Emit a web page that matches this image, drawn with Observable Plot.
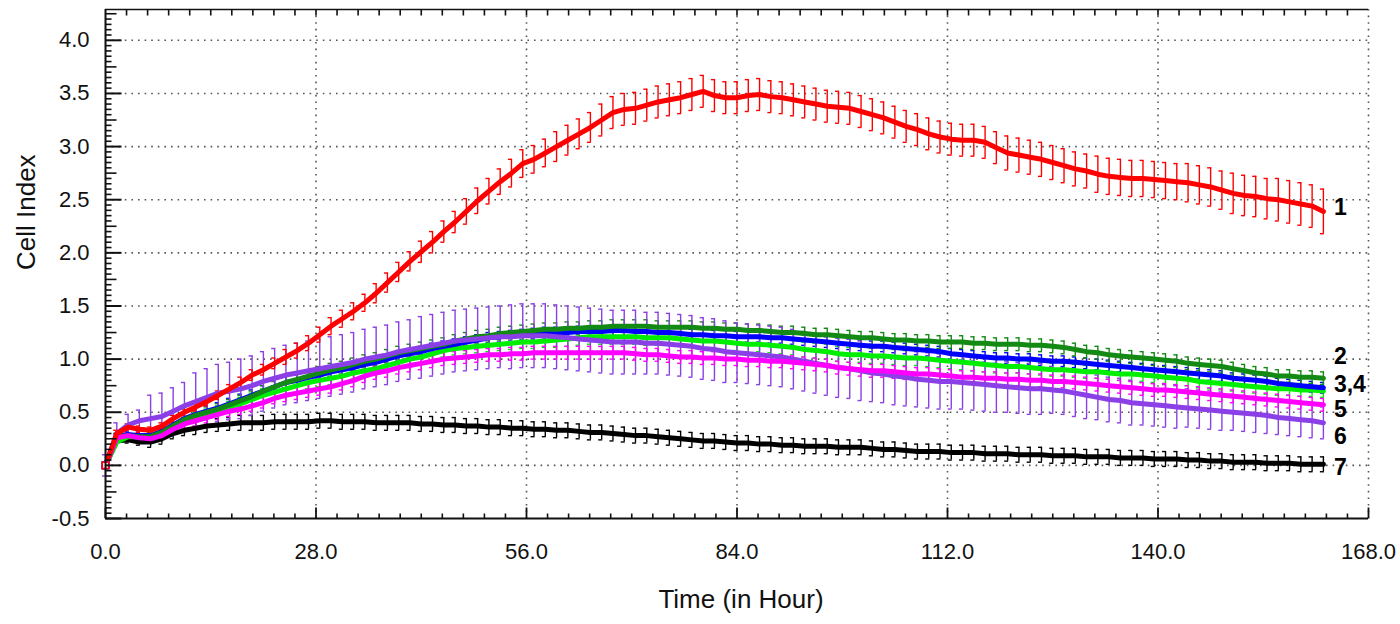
<!DOCTYPE html>
<html><head><meta charset="utf-8">
<script src="https://cdn.jsdelivr.net/npm/d3@7"></script>
<script src="https://cdn.jsdelivr.net/npm/@observablehq/plot@0.6"></script>
<style>html,body{margin:0;padding:0;background:#fff;}</style>
</head><body><div id="chart"></div>
<script>
// Time grid (hours)
const hours = [0,1.5,3,4.5,6,7.5,9,10.5,12,13.5,15,16.5,18,19.5,21,22.5,24,25.5,27,28.5,30,31.5,33,34.5,36,37.5,39,40.5,42,43.5,45,46.5,48,49.5,51,52.5,54,55.5,57,58.5,60,61.5,63,64.5,66,67.5,69,70.5,72,73.5,75,76.5,78,79.5,81,82.5,84,85.5,87,88.5,90,91.5,93,94.5,96,97.5,99,100.5,102,103.5,105,106.5,108,109.5,111,112.5,114,115.5,117,118.5,120,121.5,123,124.5,126,127.5,129,130.5,132,133.5,135,136.5,138,139.5,141,142.5,144,145.5,147,148.5,150,151.5,153,154.5,156,157.5,159,160.5,162];

// Cell Index per series
const s1 = [0.00,0.30,0.36,0.34,0.33,0.37,0.44,0.50,0.55,0.60,
 0.66,0.72,0.78,0.85,0.90,0.96,1.02,1.08,1.15,1.23,
 1.31,1.38,1.45,1.53,1.62,1.72,1.82,1.92,2.01,2.10,
 2.20,2.29,2.39,2.49,2.58,2.67,2.75,2.84,2.88,2.94,
 3.00,3.06,3.12,3.18,3.25,3.32,3.35,3.36,3.39,3.42,
 3.44,3.46,3.49,3.52,3.48,3.46,3.46,3.48,3.49,3.47,
 3.46,3.44,3.42,3.40,3.38,3.37,3.36,3.33,3.30,3.27,
 3.23,3.19,3.16,3.12,3.09,3.07,3.06,3.06,3.04,2.99,
 2.94,2.92,2.90,2.88,2.85,2.82,2.79,2.77,2.74,2.72,
 2.71,2.70,2.70,2.69,2.68,2.67,2.66,2.64,2.62,2.59,
 2.56,2.54,2.53,2.51,2.50,2.48,2.46,2.44,2.39];
const s2 = [0.00,0.27,0.28,0.27,0.27,0.31,0.37,0.43,0.47,0.50,
 0.53,0.57,0.61,0.65,0.70,0.74,0.78,0.81,0.84,0.87,
 0.90,0.92,0.95,0.98,1.00,1.03,1.06,1.08,1.10,1.12,
 1.14,1.17,1.19,1.21,1.22,1.24,1.25,1.26,1.27,1.28,
 1.28,1.29,1.29,1.30,1.30,1.31,1.31,1.31,1.31,1.30,
 1.30,1.30,1.30,1.29,1.29,1.28,1.28,1.27,1.27,1.26,
 1.25,1.25,1.24,1.23,1.23,1.22,1.21,1.20,1.20,1.19,
 1.18,1.18,1.17,1.17,1.16,1.16,1.16,1.15,1.15,1.14,
 1.14,1.14,1.13,1.13,1.12,1.11,1.09,1.07,1.06,1.04,
 1.03,1.02,1.01,1.00,0.99,0.98,0.96,0.95,0.94,0.93,
 0.91,0.89,0.87,0.86,0.84,0.84,0.83,0.83,0.82];
const s3 = [0.00,0.27,0.29,0.28,0.28,0.32,0.38,0.44,0.48,0.51,
 0.54,0.58,0.62,0.66,0.70,0.74,0.78,0.80,0.83,0.85,
 0.88,0.90,0.92,0.95,0.97,1.00,1.03,1.05,1.07,1.10,
 1.12,1.14,1.16,1.18,1.20,1.21,1.22,1.23,1.24,1.25,
 1.25,1.25,1.26,1.26,1.26,1.27,1.27,1.26,1.26,1.25,
 1.25,1.24,1.23,1.23,1.22,1.22,1.21,1.21,1.21,1.20,
 1.20,1.19,1.18,1.17,1.16,1.15,1.14,1.13,1.12,1.12,
 1.11,1.10,1.09,1.08,1.07,1.05,1.04,1.03,1.02,1.01,
 1.01,1.00,1.00,0.99,0.98,0.98,0.97,0.96,0.95,0.94,
 0.93,0.92,0.91,0.90,0.89,0.88,0.87,0.86,0.85,0.84,
 0.82,0.81,0.80,0.79,0.77,0.76,0.75,0.74,0.73];
const s4 = [0.00,0.22,0.27,0.27,0.27,0.31,0.36,0.41,0.45,0.48,
 0.51,0.55,0.58,0.62,0.66,0.69,0.72,0.75,0.78,0.80,
 0.82,0.84,0.87,0.89,0.91,0.94,0.97,1.00,1.02,1.05,
 1.08,1.10,1.11,1.12,1.13,1.14,1.15,1.16,1.16,1.17,
 1.18,1.19,1.20,1.21,1.21,1.21,1.21,1.21,1.20,1.20,
 1.20,1.19,1.18,1.17,1.17,1.16,1.15,1.14,1.14,1.13,
 1.12,1.11,1.09,1.08,1.07,1.05,1.04,1.04,1.03,1.03,
 1.02,1.01,1.01,1.00,0.99,0.98,0.97,0.96,0.95,0.94,
 0.93,0.93,0.92,0.91,0.90,0.90,0.89,0.88,0.88,0.87,
 0.86,0.86,0.85,0.84,0.83,0.82,0.81,0.79,0.78,0.77,
 0.76,0.75,0.74,0.73,0.72,0.72,0.71,0.71,0.70];
const s5 = [0.00,0.26,0.28,0.26,0.25,0.28,0.34,0.39,0.42,0.45,
 0.48,0.51,0.53,0.56,0.59,0.63,0.66,0.68,0.70,0.72,
 0.74,0.77,0.80,0.84,0.87,0.89,0.92,0.94,0.96,0.98,
 1.00,1.01,1.02,1.03,1.04,1.04,1.05,1.05,1.06,1.06,
 1.06,1.06,1.06,1.06,1.06,1.06,1.06,1.05,1.04,1.04,
 1.03,1.02,1.02,1.01,1.01,1.00,1.00,0.99,0.99,0.98,
 0.98,0.97,0.96,0.95,0.94,0.92,0.91,0.90,0.89,0.89,
 0.88,0.87,0.86,0.86,0.85,0.84,0.83,0.83,0.82,0.82,
 0.81,0.81,0.80,0.80,0.79,0.79,0.78,0.77,0.76,0.75,
 0.74,0.73,0.72,0.71,0.71,0.70,0.69,0.68,0.67,0.66,
 0.65,0.64,0.63,0.62,0.61,0.60,0.59,0.58,0.57];
const s6 = [0.00,0.30,0.38,0.42,0.44,0.46,0.51,0.56,0.60,0.64,
 0.68,0.70,0.72,0.75,0.79,0.82,0.85,0.87,0.89,0.91,
 0.93,0.95,0.97,1.00,1.02,1.04,1.07,1.09,1.11,1.13,
 1.15,1.17,1.18,1.19,1.20,1.21,1.21,1.22,1.22,1.22,
 1.21,1.20,1.19,1.18,1.17,1.16,1.16,1.16,1.15,1.15,
 1.14,1.13,1.12,1.10,1.09,1.07,1.06,1.05,1.04,1.03,
 1.02,1.00,0.98,0.96,0.94,0.92,0.91,0.89,0.87,0.86,
 0.84,0.83,0.81,0.80,0.79,0.79,0.78,0.77,0.76,0.75,
 0.74,0.73,0.72,0.72,0.71,0.70,0.68,0.66,0.64,0.62,
 0.61,0.59,0.58,0.57,0.56,0.55,0.54,0.53,0.52,0.51,
 0.50,0.49,0.48,0.47,0.45,0.44,0.43,0.42,0.40];
const s7 = [0.00,0.23,0.24,0.22,0.22,0.25,0.30,0.33,0.35,0.37,
 0.38,0.39,0.40,0.40,0.40,0.41,0.41,0.41,0.41,0.42,
 0.42,0.41,0.41,0.41,0.40,0.40,0.40,0.40,0.39,0.39,
 0.38,0.38,0.37,0.37,0.36,0.36,0.35,0.35,0.34,0.34,
 0.33,0.33,0.32,0.31,0.31,0.30,0.29,0.28,0.28,0.27,
 0.26,0.25,0.24,0.23,0.23,0.22,0.21,0.21,0.20,0.20,
 0.19,0.19,0.18,0.18,0.18,0.17,0.17,0.17,0.16,0.15,
 0.15,0.14,0.13,0.13,0.13,0.12,0.12,0.12,0.11,0.11,
 0.11,0.10,0.10,0.10,0.09,0.09,0.09,0.08,0.08,0.08,
 0.07,0.07,0.07,0.06,0.06,0.06,0.05,0.05,0.04,0.04,
 0.03,0.03,0.03,0.02,0.02,0.02,0.01,0.01,0.01];

// Error (SD) per 6-hour block: 0,6,12,...,162 h
const e1 = [0.03,0.03,0.04,0.05,0.07,0.08,0.09,0.10,0.12,0.13,0.14,0.15,0.15,0.15,0.15,0.15,0.15,0.15,0.15,0.15,0.16,0.16,0.17,0.17,0.18,0.19,0.20,0.21];
const e2 = [0.03,0.04,0.05,0.05,0.06,0.06,0.06,0.06,0.06,0.06,0.06,0.06,0.06,0.06,0.06,0.06,0.06,0.06,0.06,0.06,0.06,0.06,0.06,0.06,0.06,0.06,0.06,0.06];
const e3 = [0.03,0.04,0.05,0.05,0.05,0.05,0.05,0.05,0.05,0.05,0.05,0.05,0.05,0.05,0.05,0.05,0.05,0.05,0.05,0.05,0.05,0.05,0.05,0.05,0.05,0.05,0.05,0.05];
const e4 = [0.03,0.04,0.05,0.06,0.06,0.06,0.06,0.06,0.06,0.06,0.07,0.07,0.07,0.07,0.07,0.07,0.07,0.07,0.07,0.07,0.06,0.06,0.06,0.06,0.06,0.06,0.06,0.06];
const e5 = [0.03,0.04,0.05,0.05,0.06,0.06,0.06,0.06,0.06,0.06,0.06,0.06,0.06,0.06,0.06,0.06,0.06,0.06,0.06,0.06,0.06,0.06,0.06,0.06,0.06,0.06,0.06,0.06];
const e6 = [0.10,0.22,0.27,0.28,0.28,0.28,0.28,0.29,0.29,0.30,0.30,0.30,0.29,0.29,0.28,0.28,0.28,0.27,0.26,0.25,0.24,0.22,0.21,0.20,0.18,0.17,0.16,0.15];
const e7 = [0.03,0.05,0.06,0.07,0.07,0.07,0.07,0.07,0.07,0.07,0.07,0.07,0.07,0.07,0.07,0.07,0.07,0.07,0.07,0.07,0.07,0.07,0.07,0.07,0.07,0.07,0.07,0.07];

const seriesValues = [s1, s2, s3, s4, s5, s6, s7];
const seriesErrors = [e1, e2, e3, e4, e5, e6, e7];
const seriesColors = ["#ff0000", "#138a13", "#0000ff", "#00ee00", "#ff00ff", "#8b3fe6", "#000000"];
// drawing order (index into series)
const drawOrder = [6, 3, 2, 1, 5, 4, 0];

// Right-side labels
const labelText = ["1", "2", "3,4", "5", "6", "7"];
const labelY = [2.43, 1.02, 0.76, 0.52, 0.27, -0.02];
const labelX = 163.4;

const yTicks = [-0.5, 0.0, 0.5, 1.0, 1.5, 2.0, 2.5, 3.0, 3.5, 4.0];
const xTicks = [0, 28, 56, 84, 112, 140, 168];
const xDomain = [0, 168];
const yDomain = [-0.5, 4.29];

// build rows
const rows = seriesValues.map((vals, s) => vals.map((v, i) => ({
  s, t: hours[i], v, e: seriesErrors[s][Math.floor(i / 4)]
})));

// custom symbols
const seg = (x1, y1, x2, y2) => ({draw(ctx) { ctx.moveTo(x1, y1); ctx.lineTo(x2, y2); }});
const capSym = seg(-3.5, 0, 0.5, 0);

// axis tick positions
const yMinor = d3.range(0, 96).map(k => Math.round((-0.5 + k * 0.05) * 100) / 100);
const isMult = (v, m) => Math.abs(v / m - Math.round(v / m)) < 1e-6;
const yMaj = yMinor.filter(v => isMult(v, 0.5));
const yMed = yMinor.filter(v => !isMult(v, 0.5) && isMult(v, 0.25));
const ySmall = yMinor.filter(v => !isMult(v, 0.25));
const xMinor = d3.range(0, 61).map(k => Math.round(k * 2.8 * 10) / 10);
const xMaj = xMinor.filter(v => isMult(v, 28));
const xSmall = xMinor.filter(v => !isMult(v, 28));

const marks = [];
// grid
marks.push(Plot.ruleY(yTicks.filter(v => v > -0.5), {stroke: "#555", strokeWidth: 1.6, strokeDasharray: "1.6,5"}));
marks.push(Plot.ruleX(xTicks.filter(v => v > 0), {stroke: "#555", strokeWidth: 1.6, strokeDasharray: "1.6,5"}));

// error bars
for (const s of drawOrder) {
  const c = seriesColors[s];
  marks.push(Plot.ruleX(rows[s], {x: "t", y1: d => d.v - d.e, y2: d => d.v + d.e, stroke: c, strokeWidth: 1.4}));
  marks.push(Plot.dot(rows[s], {x: "t", y: d => d.v + d.e, symbol: capSym, stroke: c, fill: "none", strokeWidth: 1.4}));
  marks.push(Plot.dot(rows[s], {x: "t", y: d => d.v - d.e, symbol: capSym, stroke: c, fill: "none", strokeWidth: 1.4}));
}
// lines
for (const s of drawOrder) {
  const c = seriesColors[s];
  marks.push(Plot.line(rows[s], {x: "t", y: "v", stroke: c, strokeWidth: 5, strokeLinejoin: "round"}));
}
// start markers
for (const s of drawOrder) {
  marks.push(Plot.dot(rows[s].slice(0, 1), {x: "t", y: "v", symbol: "square", r: 3.6, stroke: seriesColors[s], fill: "white", strokeWidth: 1.5}));
}

// frame
marks.push(Plot.ruleX([0], {stroke: "#111", strokeWidth: 2}));
marks.push(Plot.ruleY([yDomain[0]], {stroke: "#111", strokeWidth: 2}));
marks.push(Plot.ruleY([yDomain[1]], {stroke: "#111", strokeWidth: 1.5}));
// y ticks (inside)
marks.push(Plot.dot(yMaj, {x: () => 0, y: d => d, symbol: seg(0, 0, 16, 0), stroke: "#111", fill: "none", strokeWidth: 2}));
marks.push(Plot.dot(yMed, {x: () => 0, y: d => d, symbol: seg(0, 0, 11, 0), stroke: "#111", fill: "none", strokeWidth: 1.6}));
marks.push(Plot.dot(ySmall, {x: () => 0, y: d => d, symbol: seg(0, 0, 6, 0), stroke: "#111", fill: "none", strokeWidth: 1.6}));
// x ticks bottom and top
marks.push(Plot.dot(xMaj, {x: d => d, y: () => yDomain[0], symbol: seg(0, 0, 0, -11), stroke: "#111", fill: "none", strokeWidth: 1.8}));
marks.push(Plot.dot(xSmall, {x: d => d, y: () => yDomain[0], symbol: seg(0, 0, 0, -5), stroke: "#111", fill: "none", strokeWidth: 1.6}));
marks.push(Plot.dot(xMinor.filter(v => v > 0 && v < 168), {x: d => d, y: () => yDomain[1], symbol: seg(0, 0, 0, 6), stroke: "#111", fill: "none", strokeWidth: 1.6}));

// tick labels
marks.push(Plot.text(yTicks, {x: () => 0, y: d => d, text: d => d.toFixed(1), textAnchor: "end", dx: -16, fontSize: 22, fill: "#111"}));
marks.push(Plot.text(xTicks, {x: d => d, y: () => yDomain[0], text: d => d.toFixed(1), lineAnchor: "top", dy: 25, fontSize: 22, fill: "#111"}));
// axis titles
marks.push(Plot.text(["Cell Index"], {text: d => d, frameAnchor: "left", rotate: -90, dx: -79, dy: 6, fontSize: 26, fill: "#111"}));
marks.push(Plot.text(["Time (in Hour)"], {text: d => d, frameAnchor: "bottom", dy: 89, dx: 4, fontSize: 26, fill: "#111"}));

// series labels
marks.push(Plot.text(labelText, {x: () => labelX, y: (d, i) => labelY[i], text: d => d, textAnchor: "start", fontSize: 23, fontWeight: "bold", fill: "#000"}));

const chart = Plot.plot({
  width: 1400,
  height: 624,
  marginLeft: 105,
  marginRight: 32,
  marginTop: 9,
  marginBottom: 106,
  x: {domain: xDomain, axis: null},
  y: {domain: yDomain, axis: null},
  style: {fontFamily: "'Liberation Sans', Arial, sans-serif", fontSize: "22px", background: "#fff", color: "#111", overflow: "visible"},
  marks
});
document.getElementById("chart").appendChild(chart);
</script>
</body></html>
